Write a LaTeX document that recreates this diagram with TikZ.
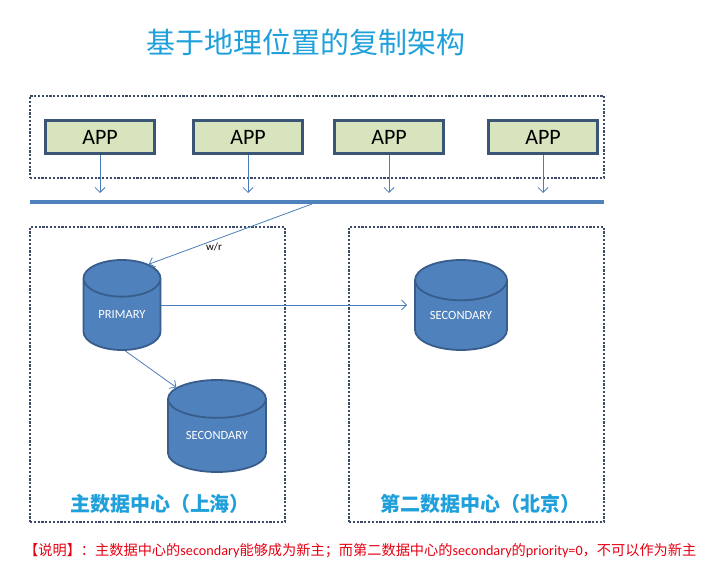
\documentclass[tikz,border=0pt]{standalone}
\usepackage{fontspec}
\setmainfont{Carlito}
\newfontfamily\cjk{Noto Sans CJK SC}
\usepackage{tikz}
\usetikzlibrary{arrows.meta, shapes.geometric, calc}

\definecolor{TitleBlue}{RGB}{31,160,218}
\definecolor{ZoneGray}{RGB}{62,75,104}
\definecolor{AppFill}{RGB}{215,228,189}
\definecolor{AppDraw}{RGB}{59,85,118}
\definecolor{DbFill}{RGB}{79,129,189}
\definecolor{DbDraw}{RGB}{56,93,138}
\definecolor{LinkBlue}{RGB}{74,126,187}
\definecolor{NoteRed}{RGB}{230,0,18}

\tikzset{
	zone/.style={draw=ZoneGray, line width=2.5pt, dash pattern=on 2.2pt off 1.6pt, minimum width=#1, inner sep=0},
	zone/.default={255pt},
	appbox/.style={draw=AppDraw, fill=AppFill, line width=2.5pt, minimum width=109pt, minimum height=33pt, inner sep=0, font=\fontsize{22}{24}\selectfont},
	db/.style={cylinder, shape border rotate=90, anchor=shape center, draw=DbDraw, fill=DbFill, line width=1.8pt, text=white, inner sep=0, font=\fontsize{12.5}{14}\selectfont},
	flow/.style={draw=LinkBlue, line width=0.8pt, -{Straight Barb[length=5pt,width=10pt]}},
	dclabel/.style={text=TitleBlue, font=\cjk\bfseries\fontsize{20}{22}\selectfont}
}

\begin{document}
\begin{tikzpicture}[x=1pt, y=-1pt]
	\useasboundingbox (0,0) rectangle (726,583);

	\node[text=TitleBlue, font=\cjk\fontsize{29}{31}\selectfont] (title) at (306,42) {基于地理位置的复制架构};

	% clients
	\node[zone=574pt, minimum height=82pt] (apps) at (317,137) {};
	\foreach \i/\x in {1/100, 2/248, 3/389, 4/543}{
		\node[appbox] (app\i) at (\x,137) {APP};
		\coordinate (tip\i) at (\x,193);
		\draw[flow] (app\i.south) -- (tip\i);
	}

	% bus
	\coordinate (busL) at (30,202);
	\coordinate (busR) at (604,202);
	\coordinate (busW) at (312,204);
	\draw[DbFill, line width=4pt] (busL) -- (busR);

	% data centres
	\node[zone, minimum height=295pt] (dc1) at (157.5,374.5) {};
	\node[zone, minimum height=295pt] (dc2) at (476.5,374.5) {};

	\node[db, aspect=0.78, minimum width=77pt, minimum height=90pt] (primary) at (122,305) {PRIMARY};
	\node[db, aspect=0.65, minimum width=92pt, minimum height=90pt] (sec1) at (461,305) {SECONDARY};
	\node[db, aspect=0.61, minimum width=98pt, minimum height=92pt] (sec2) at (217,426) {SECONDARY};

	\draw[flow] (busW) -- (primary.62) node[pos=0.6, below=-1pt, font=\fontsize{11}{12}\selectfont] (wr) {w/r};
	\draw[flow, shorten >=7pt] (primary.shape center -| primary.0) -- (sec1.shape center -| sec1.180);
	\draw[flow] (primary.-85) -- (sec2.130);

	\node[dclabel] (dc1name) at (160,504) {主数据中心（上海）};
	\node[dclabel] (dc2name) at (480,504) {第二数据中心（北京）};

	\node[anchor=west, text=NoteRed, inner sep=0, font=\fontsize{14.2}{16}\selectfont] (note) at (24,551)
		{{\cjk 【说明】：主数据中心的}secondary{\cjk 能够成为新主；而第二数据中心的}secondary{\cjk 的}priority=0{\cjk ，不可以作为新主}};
\end{tikzpicture}
\end{document}
